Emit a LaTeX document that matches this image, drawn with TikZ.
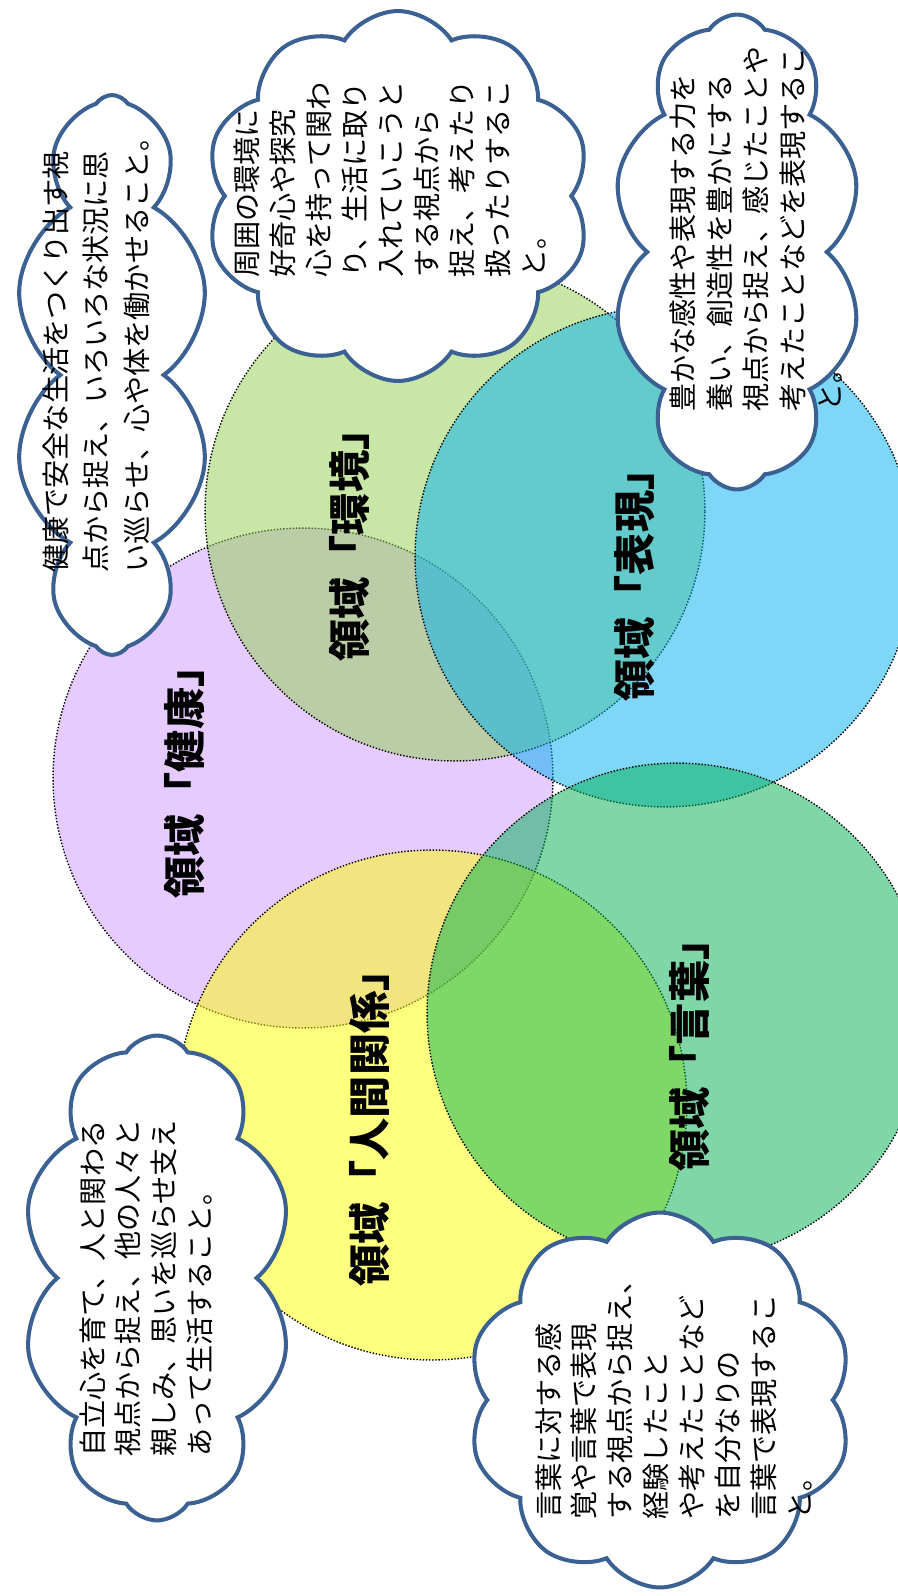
\documentclass[tikz,border=0pt]{standalone}
\usepackage{fontspec}
\setmainfont{Noto Sans CJK JP}
\usetikzlibrary{shapes.symbols}
\definecolor{cKenko}{HTML}{CC99FF}
\definecolor{cKankyo}{HTML}{92D050}
\definecolor{cHyogen}{HTML}{00B0F0}
\definecolor{cKotoba}{HTML}{00B050}
\definecolor{cNingen}{HTML}{FFFF00}
\definecolor{cCloud}{RGB}{59,96,146}
\begin{document}
\begin{tikzpicture}[x=0.02cm,y=-0.02cm,
  dom/.style={circle, draw=black, densely dotted, line width=0.8pt, fill opacity=0.5, minimum size=10cm, inner sep=0pt},
  lab/.style={rotate=90, font=\bfseries\fontsize{24}{28}\selectfont, inner sep=0pt},
  kumo/.style={cloud, cloud puffs=10, cloud puff arc=115, cloud ignores aspect, draw=cCloud, line width=2.3pt, fill=white, inner sep=0pt},
  ctext/.style={rotate=90, anchor=north west, align=left, inner sep=0pt}]
\useasboundingbox (0,0) rectangle (898,1596);
\fill[white] (0,0) rectangle (898,1596);
% domain circles
\node[dom, fill=cKenko] (kenko) at (303,778) {};
\node[dom, fill=cKankyo] (kankyo) at (455,511) {};
\node[dom, fill=cHyogen] (hyogen) at (665,557) {};
\node[dom, fill=cNingen, minimum size=10.2cm] (ningen) at (432,1105) {};
\node[dom, fill=cKotoba] (kotoba) at (677,1013) {};
% labels
\node[lab] (kenkoL) at (185,772) {領域「健康」};
\node[lab] (kankyoL) at (350,535) {領域「環境」};
\node[lab] (hyogenL) at (635,575) {領域「表現」};
\node[lab] (kotobaL) at (690,1045) {領域「言葉」};
\node[lab] (ningenL) at (370,1118) {領域「人間関係」};
% clouds
\node[kumo, minimum width=3.9cm, minimum height=11.2cm] (k1) at (112,375) {};
\node[kumo, minimum width=7.7cm, minimum height=7.4cm] (k2) at (398,196) {};
\node[kumo, minimum width=5.0cm, minimum height=9.5cm] (k3) at (737,252) {};
\node[kumo, minimum width=5.4cm, minimum height=9.7cm] (k4) at (157,1278) {};
\node[kumo, minimum width=7.7cm, minimum height=7.5cm] (k5) at (660,1400) {};
% cloud texts
\node[ctext, font=\fontsize{16}{23.2}\selectfont] (t1) at (42,573)
  {健康で安全な生活をつくり出す視\\点から捉え、いろいろな状況に思\\い巡らせ、心や体を働かせること。};
\node[ctext, font=\fontsize{16}{20.4}\selectfont] (t2) at (234,278)
  {周囲の環境に\\好奇心や探究\\心を持って関わ\\り、生活に取り\\入れていこうと\\する視点から\\捉え、考えたり\\扱ったりするこ\\と。};
\node[ctext, font=\fontsize{16}{21}\selectfont] (t3) at (669,412)
  {豊かな感性や表現する力を\\養い、創造性を豊かにする\\視点から捉え、感じたことや\\考えたことなどを表現するこ\\と。};
\node[ctext, font=\fontsize{16}{20.4}\selectfont] (t4) at (79,1457)
  {自立心を育て、人と関わる\\視点から捉え、他の人々と\\親しみ、思いを巡らせ支え\\あって生活すること。};
\node[ctext, font=\fontsize{16}{20.4}\selectfont] (t5) at (535,1520)
  {言葉に対する感\\覚や言葉で表現\\する視点から捉え、\\経験したこと\\や考えたことなど\\を自分なりの\\言葉で表現するこ\\と。};
\end{tikzpicture}
\end{document}
